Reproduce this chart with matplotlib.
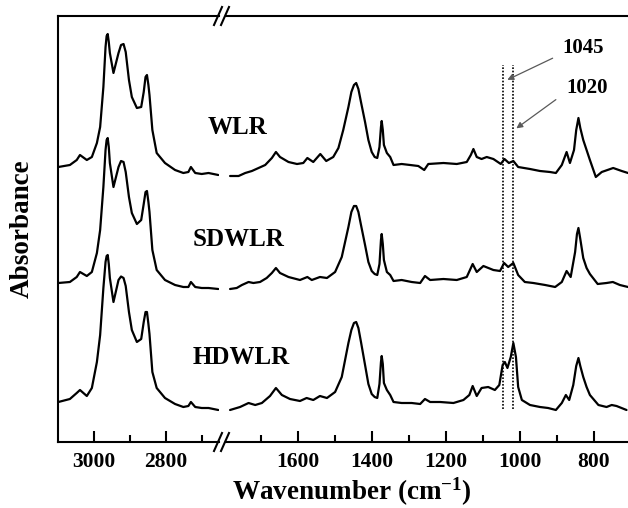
import matplotlib
matplotlib.use("Agg")
import matplotlib.pyplot as plt
from matplotlib.lines import Line2D

plt.rcParams['font.family'] = 'Liberation Serif'
plt.rcParams['font.weight'] = 'bold'
plt.rcParams['mathtext.default'] = 'regular'

# ---- high wavenumber region (C-H stretch) ----
hi_wn = [3099, 3067, 3048, 3039, 3020, 3006, 2992, 2983, 2974, 2968,
         2965, 2962, 2959, 2956, 2946, 2932, 2925, 2918, 2912, 2903,
         2895, 2881, 2869, 2862, 2857, 2853, 2849, 2846, 2838, 2826,
         2803, 2775, 2752, 2738, 2731, 2719, 2701, 2682, 2655]
wlr_hi = [2.75, 2.77, 2.82, 2.87, 2.82, 2.85, 2.99, 3.15, 3.55, 3.95,
          4.06, 4.08, 4.00, 3.89, 3.69, 3.89, 3.97, 3.98, 3.90, 3.62,
          3.45, 3.34, 3.35, 3.50, 3.65, 3.67, 3.57, 3.47, 3.12, 2.89,
          2.79, 2.72, 2.69, 2.70, 2.75, 2.69, 2.68, 2.69, 2.67]
sdwlr_hi = [1.59, 1.60, 1.65, 1.70, 1.66, 1.70, 1.89, 2.12, 2.55, 2.92,
            3.02, 3.04, 2.95, 2.79, 2.55, 2.75, 2.81, 2.80, 2.70, 2.45,
            2.29, 2.18, 2.22, 2.38, 2.50, 2.51, 2.40, 2.30, 1.92, 1.72,
            1.62, 1.57, 1.55, 1.55, 1.60, 1.55, 1.54, 1.54, 1.53]
hdwlr_hi = [0.40, 0.43, 0.49, 0.52, 0.46, 0.54, 0.80, 1.07, 1.54, 1.80,
            1.86, 1.87, 1.78, 1.64, 1.40, 1.62, 1.655, 1.64, 1.56, 1.30,
            1.12, 1.00, 1.03, 1.20, 1.30, 1.30, 1.18, 1.08, 0.70, 0.54,
            0.44, 0.38, 0.35, 0.36, 0.40, 0.35, 0.34, 0.34, 0.32]

# ---- fingerprint region ----
wlr_lo_wn = [1784, 1761, 1743, 1725, 1707, 1689, 1671, 1660, 1649, 1626,
             1603, 1586, 1575, 1559, 1540, 1524, 1505, 1491, 1478, 1464,
             1456, 1449, 1443, 1437, 1430, 1419, 1410, 1401, 1393, 1386,
             1380, 1376, 1374, 1371, 1368, 1360, 1351, 1342, 1320, 1297,
             1275, 1259, 1248, 1207, 1171, 1144, 1133, 1126, 1117, 1104,
             1090, 1072, 1052, 1042, 1030, 1018, 1005, 973, 946, 919,
             903, 887, 874, 865, 854, 848, 842, 837, 829, 820,
             811, 795, 779, 748, 725, 708]
wlr_lo = [2.66, 2.66, 2.69, 2.71, 2.74, 2.77, 2.84, 2.90, 2.85, 2.80,
          2.78, 2.79, 2.84, 2.80, 2.88, 2.81, 2.85, 2.94, 3.12, 3.35,
          3.50, 3.57, 3.59, 3.53, 3.40, 3.20, 3.02, 2.90, 2.85, 2.84,
          2.95, 3.15, 3.21, 3.12, 2.97, 2.89, 2.85, 2.77, 2.78, 2.77,
          2.76, 2.72, 2.78, 2.79, 2.78, 2.80, 2.87, 2.93, 2.85, 2.83,
          2.85, 2.83, 2.78, 2.83, 2.79, 2.81, 2.75, 2.73, 2.71, 2.70,
          2.69, 2.77, 2.90, 2.79, 2.92, 3.12, 3.24, 3.14, 3.02, 2.92,
          2.82, 2.65, 2.70, 2.74, 2.71, 2.69]

sdwlr_lo_wn = [1784, 1766, 1752, 1734, 1721, 1703, 1685, 1671, 1660, 1649,
               1626, 1595, 1575, 1563, 1541, 1522, 1500, 1482, 1464, 1456,
               1449, 1443, 1437, 1430, 1419, 1410, 1401, 1393, 1386, 1380,
               1376, 1374, 1371, 1368, 1360, 1351, 1342, 1320, 1293, 1270,
               1257, 1243, 1207, 1171, 1144, 1128, 1117, 1099, 1072, 1054,
               1043, 1032, 1018, 1005, 987, 964, 932, 905, 887, 874,
               863, 851, 846, 842, 837, 829, 820, 811, 790, 766,
               749, 730, 708]
sdwlr_lo = [1.53, 1.54, 1.57, 1.60, 1.59, 1.60, 1.64, 1.69, 1.74, 1.69,
            1.65, 1.62, 1.65, 1.62, 1.65, 1.64, 1.70, 1.85, 2.15, 2.30,
            2.36, 2.36, 2.30, 2.17, 1.97, 1.80, 1.71, 1.68, 1.67, 1.78,
            2.02, 2.08, 1.98, 1.82, 1.70, 1.67, 1.61, 1.62, 1.60, 1.59,
            1.66, 1.62, 1.63, 1.62, 1.65, 1.78, 1.70, 1.76, 1.72, 1.71,
            1.79, 1.75, 1.79, 1.67, 1.60, 1.59, 1.57, 1.55, 1.60, 1.71,
            1.65, 1.90, 2.08, 2.14, 2.03, 1.84, 1.74, 1.68, 1.58, 1.59,
            1.60, 1.57, 1.55]

hdwlr_lo_wn = [1784, 1757, 1734, 1716, 1698, 1676, 1660, 1644, 1622, 1595,
               1577, 1559, 1541, 1522, 1500, 1482, 1464, 1456, 1449, 1443,
               1437, 1430, 1419, 1410, 1401, 1393, 1386, 1380, 1376, 1374,
               1371, 1368, 1360, 1351, 1342, 1320, 1293, 1270, 1257, 1243,
               1216, 1180, 1153, 1137, 1128, 1117, 1104, 1086, 1068, 1056,
               1047, 1041, 1034, 1025, 1018, 1011, 1005, 995, 973, 946,
               924, 903, 887, 876, 867, 856, 848, 842, 837, 829,
               820, 811, 788, 766, 752, 739, 712]
hdwlr_lo = [0.32, 0.35, 0.39, 0.37, 0.39, 0.46, 0.54, 0.47, 0.43, 0.41,
            0.44, 0.42, 0.46, 0.44, 0.50, 0.65, 0.99, 1.12, 1.19, 1.20,
            1.14, 1.00, 0.77, 0.58, 0.48, 0.45, 0.44, 0.58, 0.80, 0.86,
            0.78, 0.59, 0.52, 0.47, 0.40, 0.39, 0.39, 0.38, 0.43, 0.40,
            0.40, 0.39, 0.42, 0.47, 0.56, 0.46, 0.54, 0.55, 0.52, 0.57,
            0.77, 0.80, 0.74, 0.85, 0.99, 0.85, 0.55, 0.42, 0.37, 0.35,
            0.34, 0.32, 0.39, 0.47, 0.42, 0.57, 0.76, 0.84, 0.76, 0.65,
            0.55, 0.47, 0.37, 0.35, 0.37, 0.36, 0.32]

samples = ['WLR', 'SDWLR', 'HDWLR']
marked_wn = [1045, 1020]

W, H = 628, 508
fig = plt.figure(figsize=(W / 100, H / 100), dpi=100)
ax1 = fig.add_axes([58 / W, 66 / H, (219 - 58) / W, 426 / H])
ax2 = fig.add_axes([226 / W, 66 / H, (628 - 226) / W, 426 / H])

style = dict(color='k', lw=1.6, solid_joinstyle='round', solid_capstyle='round')
for y in (wlr_hi, sdwlr_hi, hdwlr_hi):
    ax1.plot(hi_wn, y, **style)
ax2.plot(wlr_lo_wn, wlr_lo, **style)
ax2.plot(sdwlr_lo_wn, sdwlr_lo, **style)
ax2.plot(hdwlr_lo_wn, hdwlr_lo, **style)

ax1.set_xlim(3100, 2653)
ax2.set_xlim(1795, 708)
for ax in (ax1, ax2):
    ax.set_ylim(0, 4.26)
    ax.set_yticks([])
    for s in ax.spines.values():
        s.set_linewidth(1.5)
    ax.tick_params(axis='x', direction='in', length=8, width=1.5, pad=7,
                   labelsize=15.5, top=False)
    ax.tick_params(axis='x', which='minor', direction='in', length=5, width=1.5, top=False)

ax1.spines['right'].set_visible(False)
ax2.spines['left'].set_visible(False)
ax2.spines['right'].set_visible(False)

ax1.set_xticks([3000, 2800])
ax1.set_xticks([2900, 2700], minor=True)
ax2.set_xticks([1600, 1400, 1200, 1000, 800])
ax2.set_xticks([1700, 1500, 1300, 1100, 900], minor=True)

# break marks
for yc in (442, 16):
    for xc in (218, 225):
        fig.add_artist(Line2D([(xc - 4) / W, (xc + 4) / W],
                              [1 - (yc + 9) / H, 1 - (yc - 9) / H],
                              transform=fig.transFigure, color='k', lw=1.5))

# marked bands
ax2.vlines(marked_wn, 0.33, 3.77, colors='k', linestyles=(0, (1, 1)), lw=1.2)
ax2.annotate('', xy=(1041, 3.61), xytext=(905, 3.85),
             arrowprops=dict(arrowstyle='-|>', color='0.35', lw=0.9, mutation_scale=9))
ax2.annotate('', xy=(1016, 3.12), xytext=(897, 3.44),
             arrowprops=dict(arrowstyle='-|>', color='0.35', lw=0.9, mutation_scale=9))
ax2.text(830, 3.94, '1045', fontsize=15, fontweight='bold', ha='center', va='center')
ax2.text(819, 3.54, '1020', fontsize=15, fontweight='bold', ha='center', va='center')

# sample names
for name, (xp, yp) in zip(samples, [(237, 127), (239, 240), (241, 357)]):
    fig.text(xp / W, 1 - yp / H, name, fontsize=18, fontweight='bold',
             ha='center', va='center')

fig.text(352 / W, 1 - 492 / H, 'Wavenumber (cm$^{-1}$)', fontsize=19.5,
         fontweight='bold', ha='center', va='center')
fig.text(22 / W, 1 - 229 / H, 'Absorbance', fontsize=19.5, fontweight='bold',
         ha='center', va='center', rotation=90)

fig.savefig('out.png', dpi=100)
